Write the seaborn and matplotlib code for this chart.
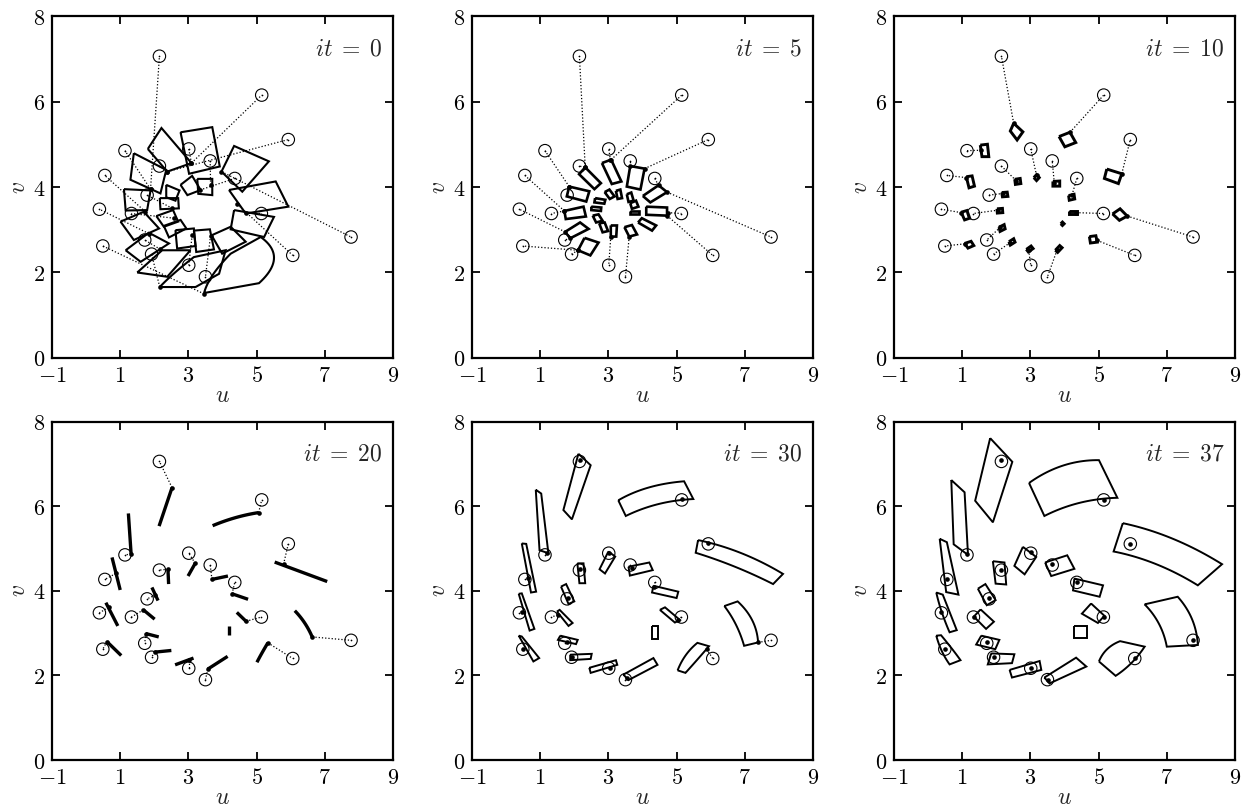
import numpy as np
import matplotlib
matplotlib.use("Agg")
import matplotlib.pyplot as plt
import matplotlib.ticker as mticker
import seaborn as sns
import pandas as pd

# ---------------- data ----------------
iterations = [0, 5, 10, 20, 30, 37]
x_ticks = [-1, 1, 3, 5, 7, 9]
y_ticks = [0, 2, 4, 6, 8]

target_u = [2.15, 5.15, 5.93, 1.14, 3.01, 3.64, 2.15, 0.55, 4.36, 1.79,
            0.39, 1.33, 5.14, 7.77, 1.72, 0.49, 1.92, 6.06, 3.01, 3.50]
target_v = [7.06, 6.15, 5.11, 4.85, 4.89, 4.61, 4.49, 4.27, 4.20, 3.81,
            3.48, 3.38, 3.38, 2.83, 2.76, 2.62, 2.43, 2.40, 2.17, 1.90]

# cells (polygons) and tracked points (dots) for each iteration.
# a vertex written as (u, v, "c") is a point in the middle of a curved edge.
cells_it0 = [
    [(1.81, 4.89), (2.21, 5.38), (3.09, 4.56), (2.38, 4.36)],
    [(2.77, 5.28), (3.70, 5.40), (3.92, 4.48), (3.02, 4.31)],
    [(3.97, 4.36), (4.34, 4.96), (5.36, 4.60), (4.58, 3.89)],
    [(4.19, 3.93), (5.56, 4.13), (5.93, 3.54), (4.68, 3.38)],
    [(4.34, 3.46), (5.51, 3.30), (5.22, 2.83), (4.24, 3.01)],
    [(3.46, 1.52), (5.07, 1.75), (5.51, 2.33, "c"), (5.12, 2.83),
     (4.24, 2.44), (3.72, 1.95, "c")],
    [(2.16, 1.66), (3.21, 1.66), (3.90, 1.97), (4.09, 2.52), (3.16, 2.36),
     (2.58, 1.98, "c")],
    [(1.50, 2.00), (2.23, 2.52), (3.06, 2.52), (2.38, 1.90)],
    [(1.16, 2.52), (1.84, 2.93), (2.43, 2.68), (1.60, 2.25)],
    [(1.01, 3.19), (1.69, 3.42), (2.14, 3.03), (1.40, 2.76)],
    [(1.11, 3.95), (1.89, 3.92), (1.79, 3.46), (1.16, 3.45)],
    [(1.40, 4.79), (2.35, 4.40), (2.18, 3.85), (1.30, 4.17)],
    [(3.26, 4.19), (3.70, 4.19), (3.70, 3.81), (3.29, 3.84)],
    [(2.77, 4.05), (3.11, 4.26), (3.36, 3.93), (2.97, 3.81)],
    [(2.35, 4.05), (2.74, 3.92), (2.62, 3.68), (2.35, 3.76)],
    [(2.16, 3.74), (2.70, 3.74), (2.72, 3.50), (2.18, 3.48)],
    [(2.06, 3.32), (2.55, 3.46), (2.70, 3.19), (2.28, 3.07)],
    [(2.28, 3.09), (2.77, 3.23), (2.94, 3.03), (2.43, 2.82)],
    [(2.62, 2.99), (3.16, 3.03), (3.21, 2.62), (2.67, 2.56)],
    [(3.16, 2.98), (3.63, 3.01), (3.75, 2.54), (3.23, 2.48)],
    [(3.68, 2.87), (4.24, 3.07), (4.68, 2.72), (3.99, 2.44)],
]
dots_it0 = [(1.89, 3.95), (3.09, 4.56), (2.38, 4.36), (1.89, 3.95), (3.09, 4.56),
            (3.65, 4.05), (2.38, 4.36), (1.74, 3.42), (3.34, 3.93), (2.53, 3.50),
            (1.84, 2.91), (2.58, 3.27), (4.68, 3.40), (3.97, 4.36), (2.18, 2.54),
            (3.46, 1.50), (2.16, 1.66), (4.43, 3.60), (3.11, 2.87), (3.65, 2.86)]

cells_it5 = [
    [(2.32, 4.46), (2.78, 4.09), (2.59, 3.95), (2.14, 4.30)],
    [(2.81, 4.56), (3.08, 4.64), (3.38, 4.13), (3.10, 4.07)],
    [(3.64, 4.49), (4.06, 4.43), (3.94, 3.94), (3.54, 4.01)],
    [(4.01, 3.79), (4.47, 4.04), (4.72, 3.88), (4.23, 3.64)],
    [(4.11, 3.54), (4.72, 3.52), (4.72, 3.33), (4.11, 3.35)],
    [(3.87, 3.17), (3.98, 3.27), (4.40, 3.10), (4.28, 2.98)],
    [(3.47, 3.06), (3.69, 3.11), (3.84, 2.89), (3.61, 2.84)],
    [(3.07, 3.10), (3.25, 3.10), (3.23, 2.84), (3.07, 2.84)],
    [(2.30, 2.81), (2.71, 2.70), (2.47, 2.40), (2.11, 2.52)],
    [(1.73, 2.95), (2.17, 3.17), (2.42, 3.02), (1.88, 2.80)],
    [(1.71, 3.44), (2.27, 3.54), (2.34, 3.31), (1.75, 3.25)],
    [(1.85, 4.01), (2.44, 3.90), (2.35, 3.66), (1.78, 3.78)],
    [(2.89, 3.88), (3.03, 3.94), (3.18, 3.78), (3.04, 3.72)],
    [(3.22, 3.91), (3.35, 3.94), (3.40, 3.74), (3.27, 3.72)],
    [(3.54, 3.83), (3.67, 3.87), (3.74, 3.68), (3.59, 3.65)],
    [(3.64, 3.62), (3.81, 3.68), (3.88, 3.54), (3.69, 3.49)],
    [(3.64, 3.44), (3.89, 3.44), (3.89, 3.38), (3.64, 3.38)],
    [(2.61, 3.74), (2.91, 3.70), (2.88, 3.61), (2.59, 3.64)],
    [(2.50, 3.54), (2.79, 3.52), (2.78, 3.44), (2.50, 3.46)],
    [(2.54, 3.33), (2.71, 3.36), (2.83, 3.21), (2.64, 3.17)],
    [(2.73, 3.15), (2.89, 3.17), (2.99, 2.97), (2.83, 2.94)],
]
dots_it5 = [(2.32, 4.46), (3.08, 4.64), (4.06, 4.43), (1.85, 4.01), (3.06, 4.62),
            (3.64, 4.49), (2.30, 4.46), (1.71, 3.44), (4.47, 4.04), (1.85, 4.01),
            (1.73, 2.95), (1.71, 3.44), (4.74, 3.40), (4.72, 3.88), (1.88, 2.80),
            (2.11, 2.52), (2.11, 2.52), (4.72, 3.33), (3.07, 2.84), (3.61, 2.84)]

cells_it10 = [
    [(2.51, 5.49), (2.78, 5.29), (2.61, 5.10), (2.41, 5.31)],
    [(3.84, 5.18), (4.16, 5.28), (4.33, 5.04), (4.01, 4.94)],
    [(5.24, 4.42), (5.68, 4.31), (5.58, 4.08), (5.17, 4.20)],
    [(1.53, 4.98), (1.74, 5.00), (1.78, 4.71), (1.58, 4.71)],
    [(3.10, 4.22), (3.18, 4.29), (3.26, 4.22), (3.18, 4.15)],
    [(3.66, 4.13), (3.86, 4.14), (3.86, 4.02), (3.66, 4.02)],
    [(2.54, 4.18), (2.70, 4.20), (2.72, 4.08), (2.56, 4.06)],
    [(1.12, 4.24), (1.29, 4.26), (1.36, 4.02), (1.20, 3.98)],
    [(4.12, 3.80), (4.28, 3.83), (4.30, 3.72), (4.14, 3.69)],
    [(2.16, 3.87), (2.32, 3.88), (2.34, 3.78), (2.18, 3.77)],
    [(0.97, 3.41), (1.14, 3.45), (1.22, 3.27), (1.07, 3.23)],
    [(2.02, 3.49), (2.18, 3.50), (2.19, 3.40), (2.03, 3.39)],
    [(4.12, 3.44), (4.36, 3.44), (4.36, 3.36), (4.12, 3.36)],
    [(5.41, 3.37), (5.63, 3.49), (5.84, 3.32), (5.61, 3.22)],
    [(2.08, 3.06), (2.23, 3.12), (2.26, 3.02), (2.11, 2.96)],
    [(1.07, 2.68), (1.26, 2.73), (1.34, 2.63), (1.17, 2.57)],
    [(2.37, 2.72), (2.51, 2.79), (2.55, 2.71), (2.41, 2.64)],
    [(4.73, 2.84), (4.92, 2.86), (4.96, 2.71), (4.76, 2.69)],
    [(2.88, 2.54), (3.02, 2.62), (3.08, 2.56), (2.94, 2.48)],
    [(3.73, 2.52), (3.86, 2.63), (3.93, 2.58), (3.80, 2.47)],
    [(3.89, 3.14), (3.94, 3.18), (3.99, 3.14), (3.94, 3.10)],
]
dots_it10 = [(2.51, 5.49), (4.16, 5.28), (5.68, 4.31), (1.56, 4.86), (3.18, 4.27),
             (3.70, 4.10), (2.58, 4.15), (1.12, 4.22), (4.22, 3.81), (2.20, 3.85),
             (0.97, 3.40), (2.06, 3.46), (4.34, 3.40), (5.84, 3.32), (2.12, 3.06),
             (1.07, 2.67), (2.41, 2.70), (4.96, 2.75), (2.95, 2.52), (3.78, 2.52)]

cells_it20 = [
    [(2.52, 6.44), (2.14, 5.53)],
    [(3.71, 5.54), (4.38, 5.73, "c"), (5.06, 5.85)],
    [(5.53, 4.68), (7.07, 4.22)],
    [(1.24, 5.83), (1.32, 4.87)],
    [(3.20, 4.65), (2.99, 4.35)],
    [(3.69, 4.27), (4.16, 4.35)],
    [(2.40, 4.51), (2.42, 4.16)],
    [(0.76, 4.79), (1.00, 4.02)],
    [(4.28, 3.93), (4.75, 3.80)],
    [(1.93, 4.08), (2.11, 3.77)],
    [(0.58, 3.72), (0.93, 3.17)],
    [(1.68, 3.55), (2.01, 3.33)],
    [(4.42, 3.49), (4.69, 3.28)],
    [(6.12, 3.53), (6.41, 3.24, "c"), (6.63, 2.91)],
    [(1.75, 2.99), (2.13, 2.91)],
    [(0.61, 2.80), (1.03, 2.47)],
    [(2.01, 2.55), (2.50, 2.59)],
    [(5.33, 2.77), (5.15, 2.52, "c"), (5.01, 2.31)],
    [(2.61, 2.25), (3.15, 2.41)],
    [(3.57, 2.15), (4.15, 2.45)],
    [(4.18, 3.16), (4.18, 2.96)],
]
dots_it20 = [(2.52, 6.44), (5.06, 5.85), (5.79, 4.63), (1.32, 4.87), (3.20, 4.65),
             (3.69, 4.27), (2.40, 4.51), (0.87, 4.41), (4.28, 3.93), (2.03, 3.90),
             (0.66, 3.61), (1.68, 3.55), (4.69, 3.28), (6.63, 2.91), (1.75, 2.99),
             (0.61, 2.80), (2.01, 2.55), (5.33, 2.77), (3.01, 2.37), (3.57, 2.15)]

cells_it30 = [
    [(2.12, 7.24), (2.48, 6.97), (1.93, 5.69), (1.68, 5.91)],
    [(3.29, 6.14), (4.17, 6.44, "c"), (5.22, 6.59), (5.49, 6.17), (4.46, 6.05, "c"), (3.51, 5.77)],
    [(5.63, 5.20), (6.90, 4.89, "c"), (8.12, 4.40), (7.83, 4.16), (6.71, 4.57, "c"), (5.56, 4.90)],
    [(0.87, 6.39), (1.03, 6.30), (1.24, 4.89), (0.98, 4.96)],
    [(3.00, 4.93), (3.20, 4.81), (2.90, 4.41), (2.74, 4.51)],
    [(3.59, 4.57), (4.20, 4.67), (4.30, 4.49), (3.63, 4.36)],
    [(2.09, 4.65), (2.27, 4.65), (2.32, 4.18), (2.15, 4.18)],
    [(0.46, 5.12), (0.59, 5.11), (0.88, 3.98), (0.73, 3.96)],
    [(4.32, 4.12), (5.05, 3.98), (5.00, 3.83), (4.28, 3.96)],
    [(1.61, 4.10), (1.76, 4.16), (2.00, 3.75), (1.83, 3.69)],
    [(0.37, 3.93), (0.46, 3.94), (0.83, 3.10), (0.69, 3.06)],
    [(1.49, 3.51), (1.57, 3.55), (1.95, 3.24), (1.83, 3.17)],
    [(4.51, 3.55), (4.66, 3.61), (5.10, 3.31), (4.95, 3.25)],
    [(6.40, 3.64), (6.79, 3.75), (7.22, 3.30, "c"), (7.39, 2.78), (6.98, 2.70), (6.74, 3.20, "c")],
    [(1.59, 2.94), (2.10, 2.84), (2.05, 2.74), (1.52, 2.84)],
    [(0.37, 2.94), (0.46, 2.92), (0.97, 2.41), (0.80, 2.33)],
    [(1.88, 2.49), (2.51, 2.51), (2.48, 2.39), (1.88, 2.36)],
    [(5.03, 2.12), (5.27, 2.48, "c"), (5.61, 2.77), (5.95, 2.69), (5.56, 2.33, "c"), (5.26, 2.06)],
    [(2.44, 2.18), (3.22, 2.36), (3.26, 2.25), (2.48, 2.06)],
    [(3.44, 2.02), (4.32, 2.41), (4.44, 2.25), (3.59, 1.89)],
    [(4.27, 3.17), (4.46, 3.17), (4.46, 2.87), (4.27, 2.87)],
]
dots_it30 = [(2.17, 7.10), (5.15, 6.17), (5.91, 5.12), (1.20, 4.90), (3.02, 4.90),
             (3.68, 4.53), (2.17, 4.51), (0.64, 4.30), (4.34, 4.10), (1.81, 3.83),
             (0.46, 3.51), (1.51, 3.43), (5.05, 3.31), (7.39, 2.78), (1.78, 2.80),
             (0.51, 2.62), (1.93, 2.44), (5.88, 2.62), (3.05, 2.18), (3.54, 1.94)]

cells_it37 = [
    [(1.82, 7.61), (2.47, 7.05), (1.90, 5.62), (1.38, 6.13)],
    [(2.96, 6.55), (3.95, 6.96, "c"), (5.01, 7.09), (5.55, 6.20), (4.44, 6.08, "c"), (3.41, 5.77)],
    [(5.71, 5.60), (7.18, 5.23, "c"), (8.62, 4.63), (7.91, 4.13), (6.69, 4.63, "c"), (5.44, 4.93)],
    [(0.68, 6.62), (1.07, 6.33), (1.17, 4.85), (0.75, 5.10)],
    [(2.78, 5.04), (3.17, 4.80), (2.83, 4.39), (2.53, 4.59)],
    [(3.43, 4.67), (4.08, 4.84), (4.29, 4.52), (3.61, 4.35)],
    [(1.90, 4.70), (2.24, 4.67), (2.29, 4.15), (1.98, 4.17)],
    [(0.34, 5.23), (0.55, 5.15), (0.89, 3.91), (0.53, 3.97)],
    [(4.29, 4.29), (5.13, 4.13), (5.03, 3.86), (4.25, 4.01)],
    [(1.46, 4.05), (1.68, 4.16), (1.98, 3.78), (1.72, 3.66)],
    [(0.24, 3.96), (0.43, 3.91), (0.84, 3.07), (0.63, 3.02), (0.40, 3.50, "c")],
    [(1.54, 3.56), (1.93, 3.27), (1.70, 3.10), (1.34, 3.39)],
    [(4.78, 3.70), (5.17, 3.41), (4.98, 3.24), (4.51, 3.46)],
    [(6.35, 3.68), (7.32, 3.86), (7.74, 3.33, "c"), (7.91, 2.72), (7.00, 2.68), (6.77, 3.22, "c")],
    [(1.56, 2.94), (2.09, 2.84), (1.97, 2.62), (1.41, 2.73)],
    [(0.24, 2.94), (0.38, 2.95), (0.70, 2.63, "c"), (0.95, 2.36), (0.63, 2.26), (0.40, 2.58, "c")],
    [(1.85, 2.52), (2.53, 2.50), (2.46, 2.29), (1.75, 2.26)],
    [(5.01, 2.33), (5.25, 2.62, "c"), (5.63, 2.81), (6.35, 2.68), (5.97, 2.30, "c"), (5.50, 1.99)],
    [(2.39, 2.13), (3.27, 2.34), (3.32, 2.13), (2.46, 1.95)],
    [(3.41, 1.95), (4.34, 2.42), (4.64, 2.21), (3.56, 1.81)],
    [(4.29, 3.17), (4.66, 3.17), (4.66, 2.88), (4.29, 2.88)],
]
dots_it37 = [(2.14, 7.09), (5.15, 6.15), (5.93, 5.11), (1.14, 4.86), (3.02, 4.92),
             (3.64, 4.63), (2.14, 4.49), (0.55, 4.27), (4.36, 4.21), (1.78, 3.84),
             (0.38, 3.49), (1.34, 3.39), (5.17, 3.39), (7.77, 2.84), (1.72, 2.78),
             (0.50, 2.62), (1.92, 2.44), (6.08, 2.42), (3.02, 2.17), (3.51, 1.89)]

all_cells = [cells_it0, cells_it5, cells_it10, cells_it20, cells_it30, cells_it37]
all_dots = [dots_it0, dots_it5, dots_it10, dots_it20, dots_it30, dots_it37]
cell_lw = [1.5, 1.9, 2.1, 2.4, 1.4, 1.4]


def cell_outline(poly, closed):
    """Vertices of a cell outline; a flagged point bends its edge into a curve."""
    seq = list(poly) + ([poly[0]] if closed else [])
    out = [np.array(seq[0][:2], float)]
    j = 1
    while j < len(seq):
        p = seq[j]
        if len(p) == 3:
            a = out[-1]
            m = np.array(p[:2], float)
            b = np.array(seq[j + 1][:2], float)
            c = 2 * m - (a + b) / 2
            t = np.linspace(0, 1, 24)[1:, None]
            out.extend((1 - t) ** 2 * a + 2 * (1 - t) * t * c + t ** 2 * b)
            j += 2
        else:
            out.append(np.array(p[:2], float))
            j += 1
    return np.array(out)


# ---------------- style ----------------
sns.set_style("ticks")
plt.rcParams["mathtext.fontset"] = "cm"
plt.rcParams["font.family"] = ["DejaVu Serif"]

fig = plt.figure(figsize=(12.5, 8.05), dpi=100)
lefts = [0.0416, 0.3776, 0.7152]
bottoms = [0.5553, 0.0559]
heights = [0.4248, 0.4203]
width = 0.2728

targets = pd.DataFrame({"u": target_u, "v": target_v})

for k, it in enumerate(iterations):
    r, c = divmod(k, 3)
    ax = fig.add_axes([lefts[c], bottoms[r], width, heights[r]])

    cells = all_cells[k]
    dots = all_dots[k]
    closed = (it != 20)

    # dotted connections between tracked points and targets
    for (du, dv), tu, tv in zip(dots, target_u, target_v):
        ax.plot([du, tu], [dv, tv], ls=(0, (1, 1.6)), lw=0.9, color="black", zorder=2)

    # cells
    for poly in cells:
        pts = cell_outline(poly, closed)
        ax.plot(pts[:, 0], pts[:, 1], color="black", lw=cell_lw[k],
                solid_joinstyle="miter" if closed else "round",
                solid_capstyle="butt", zorder=3)

    # targets: open circles with a tiny centre point
    sns.scatterplot(data=targets, x="u", y="v", ax=ax, marker="o", s=80,
                    facecolors="none", edgecolor="black", linewidth=0.8, zorder=4)
    sns.scatterplot(data=targets, x="u", y="v", ax=ax, marker="o", s=1.5,
                    color="black", linewidth=0, zorder=4)
    # tracked points
    dots_df = pd.DataFrame(dots, columns=["u", "v"])
    sns.scatterplot(data=dots_df, x="u", y="v", ax=ax, marker="o", s=11,
                    color="black", linewidth=0, zorder=5)

    ax.set_xlim(-1, 9)
    ax.set_ylim(0, 8)
    ax.set_xticks(x_ticks)
    ax.set_yticks(y_ticks)
    ax.xaxis.set_major_formatter(mticker.FuncFormatter(lambda v, p: r"$%g$" % v))
    ax.yaxis.set_major_formatter(mticker.FuncFormatter(lambda v, p: r"$%g$" % v))
    ax.tick_params(direction="in", top=True, right=True, length=6, width=1.3,
                   labelsize=16, pad=5, colors="black")
    for s in ax.spines.values():
        s.set_linewidth(1.6)
        s.set_color("black")
    ax.set_xlabel(r"$u$", fontsize=17, labelpad=-2)
    ax.set_ylabel(r"$v$", fontsize=17, labelpad=2)
    ax.text(0.97, 0.905, r"$it\;=\;%d$" % it, transform=ax.transAxes,
            ha="right", va="center", fontsize=17)

fig.savefig("out.png", dpi=100)
